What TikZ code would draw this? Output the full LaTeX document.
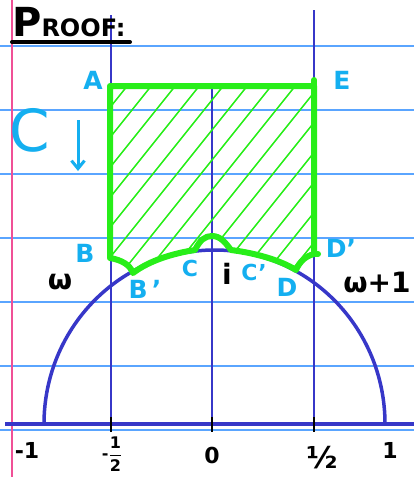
\documentclass[tikz,border=0pt]{standalone}
\usepackage{fontspec}
\setmainfont{DejaVu Sans}
\usetikzlibrary{arrows.meta}
\definecolor{cyanl}{RGB}{20,175,240}
\definecolor{greenl}{RGB}{40,238,25}
\definecolor{bluel}{RGB}{55,55,200}
\definecolor{rulel}{RGB}{90,165,255}
\definecolor{pinkl}{RGB}{240,80,150}
\tikzset{
  ruled/.style={rulel, line width=1.2pt},
  vline/.style={bluel, line width=2pt},
  tick/.style={black, line width=2.2pt},
  greenedge/.style={greenl, line width=6pt, line join=round, line cap=round},
  hatch/.style={greenl, line width=1.5pt},
  clab/.style={text=cyanl, font=\fontsize{25}{28}\selectfont\bfseries, inner sep=0pt},
  klab/.style={text=black, font=\fontsize{28}{30}\selectfont\bfseries, inner sep=0pt},
  numlab/.style={text=black, font=\fontsize{22}{26}\selectfont\bfseries, inner sep=0pt}
}
\begin{document}
\begin{tikzpicture}[x=1pt,y=-1pt]
\useasboundingbox (0,0) rectangle (414,477);
\fill[white] (0,0) rectangle (414,477);
% ruled lines
\foreach \yy in {46,110,174,238,302,366,430}
  \draw[ruled] (0,\yy) -- (414,\yy);
% margin
\draw[pinkl, line width=1.5pt] (12,0) -- (12,477);
% vertical lines
\draw[vline] (111,15) -- (111,424);
\draw[vline] (314,10) -- (314,424);
\draw[vline] (212,88) -- (212,424);
% circle
\draw[bluel, line width=3.5pt] (44,424) arc[start angle=180, end angle=360, x radius=170.5, y radius=174];
% axis
\draw[bluel, line width=4pt] (5,424) -- (414,424);
% ticks
\foreach \xx in {111,212,314}
  \draw[tick] (\xx,417) -- (\xx,432);
% green region
\def\greenregion{(110,86) -- (314,86) -- (314,254)
  .. controls (306,256) and (300,261) .. (296,270)
  .. controls (280,260) and (255,253) .. (231,250)
  .. controls (225,242) and (220,236) .. (212,236)
  .. controls (205,236) and (200,240) .. (195,250)
  .. controls (175,253) and (150,260) .. (133,273)
  .. controls (130,265) and (122,260) .. (110,258) -- cycle}
\begin{scope}
  \clip \greenregion;
  \foreach \k in {-10,...,16}
    \draw[hatch] ({100+24*\k},300) -- ({100+24*\k+200},50);
\end{scope}
\draw[greenedge] \greenregion;
\draw[greenedge] (314,80) -- (314,90);
\draw[greenedge] (314,254) -- (318,254);
% labels
\node[clab] (A) at (93,80) {A};
\node[clab] (E) at (342,80) {E};
\node[text=cyanl, font=\fontsize{58}{60}\selectfont, inner sep=0pt] (Cbig) at (30,130) {C};
\coordinate (arrtop) at (78,120);
\coordinate (arrbot) at (78,171);
\draw[cyanl, line width=3pt, -{Straight Barb[length=8pt,width=13pt]}] (arrtop) -- (arrbot);
\node[clab] (B) at (85,253) {B};
\node[clab] (Bp) at (145,289) {B\,'};
\node[clab, font=\fontsize{22}{24}\selectfont\bfseries] (C) at (190,268) {C};
\node[klab] (i) at (227,274) {i};
\node[clab, font=\fontsize{22}{24}\selectfont\bfseries] (Cp) at (254,272) {C'};
\node[clab] (D) at (287,287) {D};
\node[clab] (Dp) at (341,248) {D'};
\node[klab] (w) at (60,282) {ω};
\node[klab] (w1) at (377,282) {ω+1};
\node[numlab] (m1) at (27,450) {-1};
\node[numlab, font=\fontsize{16}{18}\selectfont\bfseries] (mh) at (112,454) {-$\displaystyle\frac{\mbox{1}}{\mbox{2}}$};
\node[numlab] (z) at (212,455) {0};
\node[numlab] (h) at (322,458) {\fontsize{30}{32}\selectfont ½};
\node[numlab] (one) at (390,450) {1};
% title
\node[anchor=south west, inner sep=0pt, text=black, font=\bfseries] (title) at (12,37)
  {{\fontsize{40}{40}\selectfont P}{\fontsize{24}{24}\selectfont ROOF:}};
\draw[black, line width=4pt, line cap=round] (12,42) -- (130,42);
\end{tikzpicture}
\end{document}
